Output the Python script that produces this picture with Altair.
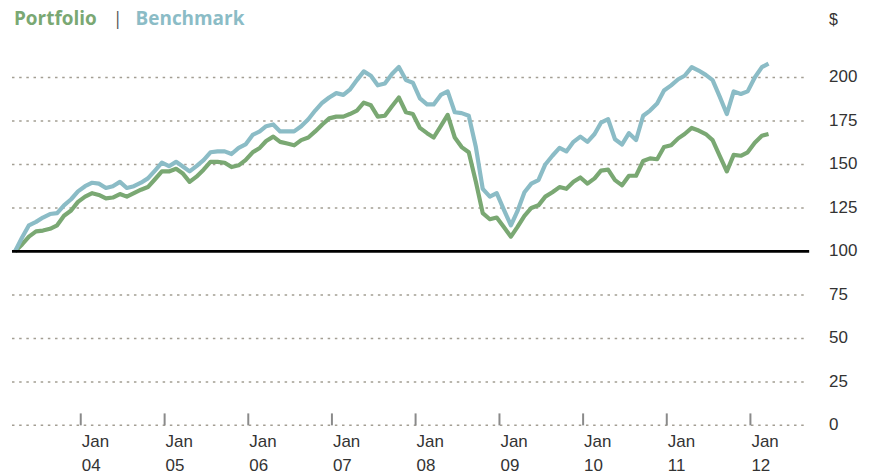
import altair as alt
import pandas as pd

# ---- data ----
portfolio = [100, 104, 108.5, 111.5, 112, 113, 115, 120.5, 123.5, 128.5,
             131.5, 133.5, 132.5, 130.5, 131, 133, 131.5, 133.5, 135.5, 137,
             141.5, 146, 146, 147.5, 145, 140, 143, 147, 151.5, 151.5,
             151, 148.5, 149.5, 152.5, 157, 159.5, 163.5, 166, 163, 162,
             161, 164, 165.5, 169, 173, 176.5, 177.5, 177.5, 179, 181,
             185.5, 184, 177.5, 178, 183.5, 188.5, 180, 179, 171, 168,
             165.5, 172, 178.5, 165.5, 160, 157, 140, 122, 118.5, 119.5,
             114, 108.5, 114, 120.5, 125, 126.5, 131.5, 134, 137, 136,
             140, 142.5, 139, 142, 146.5, 147, 141, 138, 143.5, 143.5,
             152, 153.5, 153, 160, 161, 165, 167.5, 171, 169.5, 167.5,
             164, 155, 146, 155.5, 155, 157, 162.5, 166.5, 167.5]

benchmark = [100, 108, 115, 117, 119.5, 121.5, 122, 126.5, 130, 134.5,
             137.5, 139.5, 139, 136.5, 137.5, 140, 136.5, 137.5, 139.5, 142,
             146.5, 151, 149, 151.5, 149, 146, 149, 152.5, 157, 157.5,
             157.5, 156, 159.5, 161.5, 167, 169, 172, 173, 169, 169,
             169, 172, 176, 181, 185.5, 188.5, 191, 190, 193, 198.5,
             203.5, 201, 195.5, 196.5, 202, 206, 198.5, 197, 188, 184.5,
             184.5, 190, 192, 180, 179.5, 178, 160, 136, 131.5, 133.5,
             124, 115, 123, 134, 139, 141, 150, 155, 159.5, 157.5,
             163, 166, 163, 167.5, 174, 176, 164.5, 161.5, 168, 164,
             178, 181, 185, 192.5, 195.5, 199, 201, 206, 204, 201.5,
             198.5, 189, 179, 192, 190.5, 192, 200, 206, 208]

start_year, start_month = 2003, 3
tick_years = [2004, 2005, 2006, 2007, 2008, 2009, 2010, 2011, 2012]
tick_labels = ["Jan\n04", "Jan\n05", "Jan\n06", "Jan\n07", "Jan\n08",
               "Jan\n09", "Jan\n10", "Jan\n11", "Jan\n12"]
y_ticks = [0, 25, 50, 75, 100, 125, 150, 175, 200]
grid_values = [0, 25, 50, 75, 125, 150, 175, 200]
baseline_value = [100]

n = len(portfolio)
dates = []
for i in range(n):
    m0 = start_month - 1 + i
    dates.append(f"{start_year + m0 // 12:04d}-{m0 % 12 + 1:02d}-20")

df = pd.DataFrame({
    "date": dates + dates,
    "value": portfolio + benchmark,
    "series": ["Portfolio"] * n + ["Benchmark"] * n,
})
ticks_df = pd.DataFrame({"date": [f"{y}-01-01" for y in tick_years],
                         "label": tick_labels})
ylab_df = pd.DataFrame({"value": y_ticks, "label": [str(v) for v in y_ticks]})
grid_df = pd.DataFrame({"value": grid_values})
base_df = pd.DataFrame({"value": baseline_value})

GREEN = "#7aa873"
BLUE = "#8bbcc6"
W, H = 796, 384

x_scale = alt.Scale(type="utc",
                    domain=[alt.DateTime(year=2003, month=3, date=7, utc=True),
                            alt.DateTime(year=2012, month=8, date=27, utc=True)])
y_scale = alt.Scale(domain=[0, 220], nice=False, zero=True)

grid = alt.Chart(grid_df).mark_rule(
    color="#a39e93", strokeWidth=1.5, strokeDash=[2.5, 4.7]).encode(
    y=alt.Y("value:Q", scale=y_scale, axis=None),
    x=alt.value(0), x2=alt.value(W))

ylabels = alt.Chart(ylab_df).mark_text(
    align="left", baseline="middle", font="Liberation Sans", fontSize=17,
    color="#333333").encode(
    y=alt.Y("value:Q", scale=y_scale, axis=None),
    x=alt.value(W + 24), text="label:N")

lines = alt.Chart(df).mark_line(strokeWidth=4.2, strokeJoin="round").encode(
    x=alt.X("date:T", scale=x_scale, axis=None),
    y=alt.Y("value:Q", scale=y_scale, axis=None),
    color=alt.Color("series:N", scale=alt.Scale(domain=["Benchmark", "Portfolio"],
                                                range=[BLUE, GREEN]), legend=None),
    order=alt.Order("series:N"),
)

baseline = alt.Chart(base_df).mark_rule(color="black", strokeWidth=2.8).encode(
    y=alt.Y("value:Q", scale=y_scale, axis=None),
    x=alt.value(0), x2=alt.value(W + 4))

tick_marks = alt.Chart(ticks_df).mark_rule(color="#8a8a8a", strokeWidth=2).encode(
    x=alt.X("date:T", scale=x_scale, axis=None),
    y=alt.value(H - 12), y2=alt.value(H))

xlabels = alt.Chart(ticks_df).mark_text(
    align="left", baseline="top", dx=1, lineBreak="\n", lineHeight=24,
    font="Liberation Sans", fontSize=17, color="#333333").encode(
    x=alt.X("date:T", scale=x_scale, axis=None),
    y=alt.value(H + 9), text="label:N")


def label(text, x, color, weight="bold", font="Open Sans", size=19):
    return alt.Chart(pd.DataFrame({"t": [text]})).mark_text(
        align="left", baseline="alphabetic", font=font, fontSize=size,
        fontWeight=weight, color=color).encode(
        text="t:N", x=alt.value(x), y=alt.value(-18))


title_p = label("Portfolio", 2, GREEN)
title_sep = label("|", 101, "#555555", weight="normal", size=18)
title_b = label("Benchmark", 124, BLUE)
dollar = label("$", W + 24, "#333333", weight="normal", font="Liberation Sans", size=16)

chart = alt.layer(grid, tick_marks, lines, baseline, ylabels, xlabels,
                  title_p, title_sep, title_b, dollar).properties(
    width=W, height=H,
    autosize=alt.AutoSizeParams(type="none"),
    padding={"left": 4, "top": 34, "right": 56, "bottom": 54},
).configure_view(stroke=None)

chart.save("out.html", embed_options={"renderer": "svg", "actions": False})
